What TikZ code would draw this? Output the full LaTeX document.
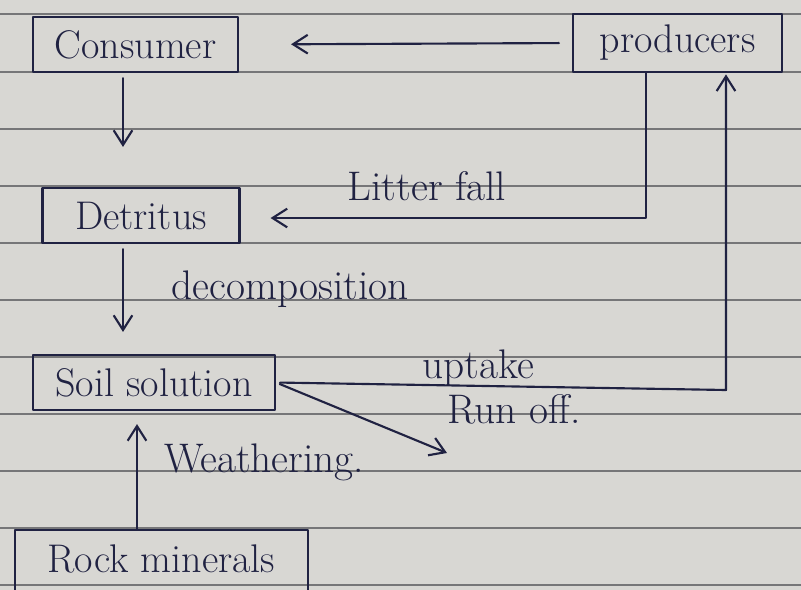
\documentclass[tikz,border=0pt]{standalone}
\usetikzlibrary{arrows.meta}
\definecolor{ink}{RGB}{32,34,66}
\definecolor{paper}{RGB}{216,215,211}
\definecolor{rule}{RGB}{118,118,120}
\tikzset{
  box/.style={draw=ink, line width=1.6pt, text=ink, inner sep=0pt, font=\fontsize{30}{34}\selectfont},
  lbl/.style={text=ink, inner sep=0pt, font=\fontsize{31}{34}\selectfont},
  flow/.style={draw=ink, line width=1.6pt, -{Straight Barb[length=11pt,width=14pt,line width=1.6pt]}}
}
\begin{document}
\begin{tikzpicture}[x=0.75pt,y=-0.75pt, line join=round, line cap=round]
	\def\W{801} \def\H{590} % picture size in px
	\useasboundingbox (0,0) rectangle (\W,\H);
	\fill[paper] (0,0) rectangle (\W,\H);
	% ruled paper
	\foreach \y in {14,72,129,186,243,300,357,414,471,528,585}
		\draw[rule, line width=1pt] (0,\y)--(\W,\y);
	% boxes
	\node[box, minimum width=153.75pt, minimum height=41.25pt] (consumer) at (135.5,44.5) {Consumer};
	\node[box, minimum width=156.75pt, minimum height=43.5pt] (producers) at (677.5,43) {producers};
	\node[box, minimum width=147.75pt, minimum height=41.25pt] (detritus) at (141,215.5) {Detritus};
	\node[box, minimum width=181.5pt, minimum height=41.25pt] (soil) at (154,382.5) {Soil solution};
	\node[box, minimum width=219.75pt, minimum height=55pt, text depth=12pt] (rock) at (161.5,567) {Rock minerals};
	% labels
	\node[lbl] (litter) at (427,186) {Litter fall};
	\node[lbl] (decomp) at (290,289) {decomposition};
	\node[lbl] (uptake) at (478,368) {uptake};
	\node[lbl] (runoff) at (514,409) {Run off.};
	\node[lbl] (weather) at (264,462) {Weathering.};
	% bends and free ends
	\coordinate (ax) at (123,0);
	\coordinate (bx) at (137,0);
	\coordinate (lf) at (646,218);
	\coordinate (up) at (726,390);
	\coordinate (runend) at (447,453);
	% connectors
	\draw[flow, shorten <=9.75pt, shorten >=39pt] (producers.west) -- (consumer.east);
	\draw[flow, shorten <=3.75pt, shorten >=30pt] (consumer.south -| ax) -- (detritus.north -| ax);
	\draw[flow, shorten >=22.5pt] (producers.south -| lf) -- (lf) -- (lf -| detritus.east);
	\draw[flow, shorten <=3.75pt, shorten >=16.5pt] (detritus.south -| ax) -- (soil.north -| ax);
	\draw[flow, shorten <=3pt, shorten >=1pt] (soil.east) -- (up) -- (up |- producers.south);
	\draw[flow, shorten <=3pt] (soil.east) -- (runend);
	\draw[flow, shorten >=9.75pt] (rock.north -| bx) -- (soil.south -| bx);
\end{tikzpicture}
\end{document}
